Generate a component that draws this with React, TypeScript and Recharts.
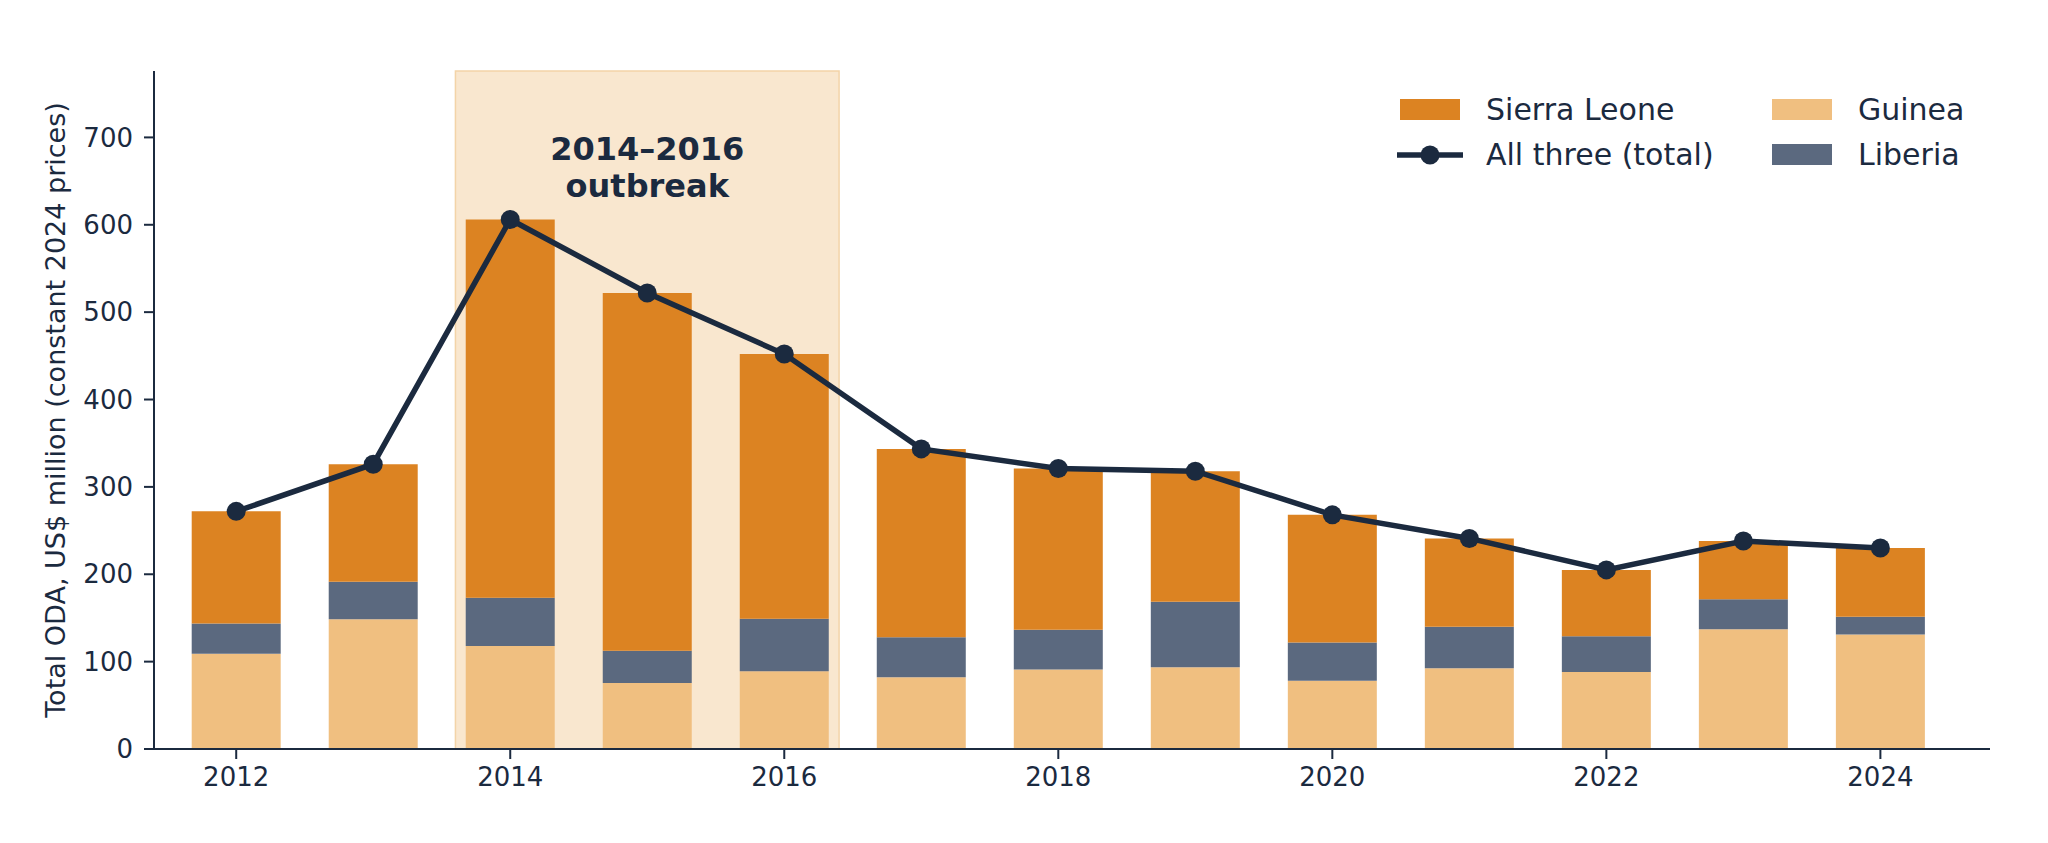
import React from "react";
import {
  ComposedChart,
  Bar,
  Line,
  XAxis,
  YAxis,
  ReferenceArea,
  Legend,
} from "recharts";

const years = [2012, 2013, 2014, 2015, 2016, 2017, 2018, 2019, 2020, 2021, 2022, 2023, 2024];
const guinea = [109, 148.5, 118, 75.5, 89, 82, 91, 93.5, 78, 92.5, 88, 137, 131];
const liberia = [34.5, 43, 55, 37, 60, 46, 45.5, 75, 44, 47.5, 41, 34.5, 20.5];
const sierraLeone = [128.5, 134.5, 433, 409.5, 303, 215.5, 184.5, 149.5, 146, 101, 76, 66.5, 78.5];
const total = [272, 326, 606, 522, 452, 343.5, 321, 318, 268, 241, 205, 238, 230];

const xTicks = [2012, 2014, 2016, 2018, 2020, 2022, 2024];
const yTicks = [0, 100, 200, 300, 400, 500, 600, 700];

const outbreakStart = 2013.6;
const outbreakEnd = 2016.4;
const outbreakLines = ["2014\u20132016", "outbreak"];

const COLORS = {
  sierraLeone: "#dc8322",
  guinea: "#f0bf80",
  liberia: "#5b697f",
  total: "#1b2a3f",
  text: "#1b2a3f",
  shade: "#f9e7cf",
  shadeEdge: "#f3d4a8",
};

const FONT = "'DejaVu Sans', sans-serif";

const legendItems = [
  { name: "Sierra Leone", kind: "bar", color: COLORS.sierraLeone },
  { name: "Guinea", kind: "bar", color: COLORS.guinea },
  { name: "All three (total)", kind: "line", color: COLORS.total },
  { name: "Liberia", kind: "bar", color: COLORS.liberia },
];

const data = years.map((year, i) => ({
  year,
  guinea: guinea[i],
  liberia: liberia[i],
  sierraLeone: sierraLeone[i],
  total: total[i],
}));

function LegendContent() {
  return (
    <div
      style={{
        display: "grid",
        gridTemplateColumns: "372px auto",
        gridAutoRows: "45px",
        fontFamily: FONT,
        fontSize: 30,
        color: COLORS.text,
      }}
    >
      {legendItems.map((it) => (
        <div key={it.name} style={{ display: "flex", alignItems: "center" }}>
          {it.kind === "bar" ? (
            <div style={{ width: 60, height: 21, background: it.color, flex: "none" }} />
          ) : (
            <svg width={66} height={24} style={{ margin: "0 -3px", flex: "none" }}>
              <line x1={0} y1={12} x2={66} y2={12} stroke={it.color} strokeWidth={5.5} />
              <circle cx={33} cy={12} r={9.5} fill={it.color} />
            </svg>
          )}
          <span style={{ marginLeft: 26, whiteSpace: "nowrap" }}>{it.name}</span>
        </div>
      ))}
    </div>
  );
}

function OutbreakLabel(props: any) {
  const vb = props.viewBox || {};
  const cx = vb.x + vb.width / 2;
  return (
    <text
      x={cx}
      y={vb.y + 89}
      textAnchor="middle"
      fontFamily={FONT}
      fontWeight="bold"
      fontSize={32}
      fill={COLORS.text}
    >
      <tspan x={cx} dy={0}>{outbreakLines[0]}</tspan>
      <tspan x={cx} dy={37}>{outbreakLines[1]}</tspan>
    </text>
  );
}

function YLabel(props: any) {
  const vb = props.viewBox || {};
  const x = vb.x - 9;
  const y = vb.y + vb.height / 2;
  return (
    <text
      x={x}
      y={y}
      transform={`rotate(-90, ${x}, ${y})`}
      textAnchor="middle"
      dominantBaseline="central"
      fontFamily={FONT}
      fontSize={27}
      fill={COLORS.text}
    >
      Total ODA, US$ million (constant 2024 prices)
    </text>
  );
}

export default function App() {
  const tickStyle = { fontSize: 26, fill: COLORS.text, fontFamily: FONT };
  return (
    <div style={{ fontFamily: FONT }}>
      <ComposedChart
        width={2040}
        height={835}
        data={data}
        margin={{ top: 63, right: 58, bottom: 34, left: 56 }}
      >
        <XAxis
          dataKey="year"
          type="number"
          domain={[2011.4, 2024.8]}
          allowDataOverflow
          ticks={xTicks}
          height={60}
          tickSize={10}
          tickMargin={9}
          tick={tickStyle}
          axisLine={{ stroke: COLORS.text, strokeWidth: 2 }}
          tickLine={{ stroke: COLORS.text, strokeWidth: 2 }}
        />
        <YAxis
          type="number"
          domain={[0, 776]}
          allowDataOverflow
          ticks={yTicks}
          width={90}
          tickSize={10}
          tickMargin={11}
          tick={tickStyle}
          axisLine={{ stroke: COLORS.text, strokeWidth: 2 }}
          tickLine={{ stroke: COLORS.text, strokeWidth: 2 }}
          label={{ content: YLabel }}
        />
        <ReferenceArea
          x1={outbreakStart}
          x2={outbreakEnd}
          y1={0}
          y2={776}
          fill={COLORS.shade}
          fillOpacity={1}
          stroke={COLORS.shadeEdge}
          strokeWidth={1.5}
          label={{ content: OutbreakLabel }}
        />
        <Bar dataKey="guinea" name="Guinea" stackId="a" fill={COLORS.guinea} barSize={89} isAnimationActive={false} />
        <Bar dataKey="liberia" name="Liberia" stackId="a" fill={COLORS.liberia} barSize={89} isAnimationActive={false} />
        <Bar dataKey="sierraLeone" name="Sierra Leone" stackId="a" fill={COLORS.sierraLeone} barSize={89} isAnimationActive={false} />
        <Line
          dataKey="total"
          name="All three (total)"
          stroke={COLORS.total}
          strokeWidth={5.5}
          dot={{ r: 9.5, fill: COLORS.total, stroke: COLORS.total, strokeWidth: 0 }}
          activeDot={false}
          isAnimationActive={false}
        />
        <Legend
          layout="horizontal"
          verticalAlign="middle"
          align="center"
          content={LegendContent}
          wrapperStyle={{ position: "absolute", left: 1392, top: 79, width: "auto" }}
        />
      </ComposedChart>
    </div>
  );
}
